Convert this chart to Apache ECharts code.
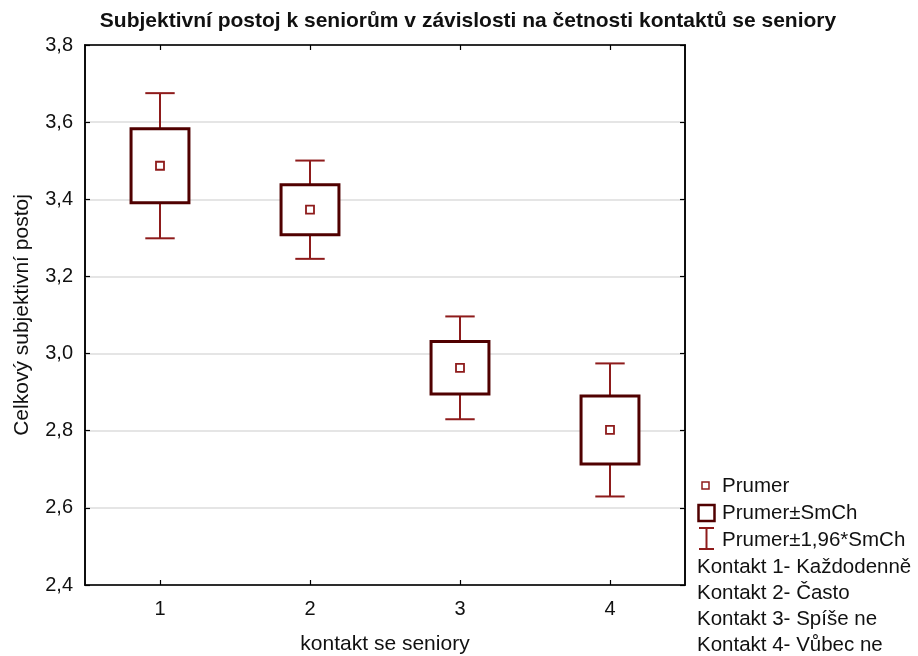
<!DOCTYPE html>
<html>
<head>
<meta charset="utf-8">
<script src="https://cdn.jsdelivr.net/npm/echarts@6/dist/echarts.min.js"></script>
<style>
  html, body { margin: 0; padding: 0; background: #fff; }
  #chart { width: 918px; height: 656px; }
</style>
</head>
<body>
<div id="chart"></div>
<script>
// Contact-frequency groups on the x axis
const categories = ['1', '2', '3', '4'];
// Group means of the overall subjective attitude
const means = [3.487, 3.373, 2.963, 2.802];
// Standard errors of the means (SmCh)
const stdErrors = [0.096, 0.065, 0.068, 0.088];

const chartTitle = 'Subjektivní postoj k seniorům v závislosti na četnosti kontaktů se seniory';
const yAxisName = 'Celkový subjektivní postoj';
const xAxisName = 'kontakt se seniory';
const legendLabels = ['Prumer', 'Prumer±SmCh', 'Prumer±1,96*SmCh'];
const contactLabels = [
  'Kontakt 1- Každodenně',
  'Kontakt 2- Často',
  'Kontakt 3- Spíše ne',
  'Kontakt 4- Vůbec ne'
];

const FONT = "'Liberation Sans', Arial, sans-serif";
const TEXT_SIZE = 20;
const BOX_COLOR = '#500000';
const WHISKER_COLOR = '#8e1b1b';
const MEAN_COLOR = '#8e1b1b';

const seriesData = categories.map((c, i) => [i, means[i], stdErrors[i]]);

// Box = mean ± SE, whiskers = mean ± 1.96·SE, small square = mean
function renderItem(params, api) {
  const idx = api.value(0);
  const m = api.value(1);
  const se = api.value(2);
  const band = api.size([1, 0])[0];
  const cx = api.coord([idx, m])[0];
  const yMean = api.coord([idx, m])[1];
  const yBoxTop = api.coord([idx, m + se])[1];
  const yBoxBot = api.coord([idx, m - se])[1];
  const yWTop = api.coord([idx, m + 1.96 * se])[1];
  const yWBot = api.coord([idx, m - 1.96 * se])[1];
  const boxHalf = band * 0.193;
  const capHalf = band * 0.098;
  const wStyle = { stroke: WHISKER_COLOR, lineWidth: 2 };
  const ms = 8;
  return {
    type: 'group',
    children: [
      { type: 'line', shape: { x1: cx, y1: yWTop, x2: cx, y2: yBoxTop }, style: wStyle },
      { type: 'line', shape: { x1: cx, y1: yBoxBot, x2: cx, y2: yWBot }, style: wStyle },
      { type: 'line', shape: { x1: cx - capHalf, y1: yWTop, x2: cx + capHalf, y2: yWTop }, style: wStyle },
      { type: 'line', shape: { x1: cx - capHalf, y1: yWBot, x2: cx + capHalf, y2: yWBot }, style: wStyle },
      {
        type: 'rect',
        shape: { x: cx - boxHalf, y: yBoxTop, width: boxHalf * 2, height: yBoxBot - yBoxTop },
        style: { fill: '#fff', stroke: BOX_COLOR, lineWidth: 3 }
      },
      {
        type: 'rect',
        shape: { x: cx - ms / 2, y: yMean - ms / 2, width: ms, height: ms },
        style: { fill: '#fff', stroke: MEAN_COLOR, lineWidth: 1.8 }
      }
    ]
  };
}

const legendGraphics = [
  // mean marker icon
  { type: 'rect', shape: { x: 702, y: 482, width: 7, height: 7 },
    style: { fill: '#fff', stroke: MEAN_COLOR, lineWidth: 1.5 } },
  // box icon
  { type: 'rect', shape: { x: 698.5, y: 505, width: 16, height: 16 },
    style: { fill: '#fff', stroke: BOX_COLOR, lineWidth: 2.5 } },
  // whisker icon
  { type: 'line', shape: { x1: 699, y1: 528, x2: 714, y2: 528 }, style: { stroke: WHISKER_COLOR, lineWidth: 2 } },
  { type: 'line', shape: { x1: 706.5, y1: 528, x2: 706.5, y2: 549 }, style: { stroke: WHISKER_COLOR, lineWidth: 2 } },
  { type: 'line', shape: { x1: 699, y1: 549, x2: 714, y2: 549 }, style: { stroke: WHISKER_COLOR, lineWidth: 2 } }
];
const legendTextY = [486, 513, 540];
legendLabels.forEach((t, i) => {
  legendGraphics.push({
    type: 'text', x: 722, y: legendTextY[i],
    style: { text: t, font: '20.5px ' + FONT, fill: '#111', verticalAlign: 'middle' }
  });
});
const contactY = [567, 593, 619, 645];
contactLabels.forEach((t, i) => {
  legendGraphics.push({
    type: 'text', x: 697, y: contactY[i],
    style: { text: t, font: '20.5px ' + FONT, fill: '#111', verticalAlign: 'middle' }
  });
});

const axisLabelStyle = { fontFamily: FONT, fontSize: TEXT_SIZE, color: '#111' };

const option = {
  animation: false,
  backgroundColor: '#fff',
  title: {
    text: chartTitle,
    left: 463, top: 6, textAlign: 'center',
    textStyle: { fontFamily: FONT, fontSize: 21, fontWeight: 'bold', color: '#111' }
  },
  grid: {
    left: 85, top: 45, width: 600, height: 540,
    outerBoundsMode: 'none',
    show: true, borderColor: '#000', borderWidth: 1.5, backgroundColor: 'transparent'
  },
  xAxis: [
    {
      type: 'category', data: categories, boundaryGap: true, position: 'bottom',
      axisLine: { show: true, lineStyle: { color: '#000', width: 1.5 } },
      axisTick: { show: true, inside: true, alignWithLabel: true, length: 5, lineStyle: { color: '#000', width: 1.2 } },
      axisLabel: Object.assign({ margin: 14 }, axisLabelStyle),
      splitLine: { show: false },
      name: xAxisName, nameLocation: 'middle', nameGap: 49,
      nameTextStyle: { fontFamily: FONT, fontSize: 21, color: '#111' }
    },
    {
      type: 'category', data: categories, boundaryGap: true, position: 'top',
      axisLine: { show: true, lineStyle: { color: '#000', width: 1.5 } },
      axisTick: { show: true, inside: true, alignWithLabel: true, length: 5, lineStyle: { color: '#000', width: 1.2 } },
      axisLabel: { show: false },
      splitLine: { show: false }
    }
  ],
  yAxis: [
    {
      type: 'value', min: 2.4, max: 3.8, interval: 0.2, position: 'left',
      axisLine: { show: true, lineStyle: { color: '#000', width: 1.5 } },
      axisTick: { show: true, inside: true, length: 5, lineStyle: { color: '#000', width: 1.2 } },
      axisLabel: Object.assign({ margin: 12, formatter: v => v.toFixed(1).replace('.', ',') }, axisLabelStyle),
      splitLine: { show: true, lineStyle: { color: '#dcdcdc', width: 1.5 } },
      name: yAxisName, nameLocation: 'middle', nameGap: 52, nameRotate: 90,
      nameTextStyle: { fontFamily: FONT, fontSize: 21, color: '#111' }
    },
    {
      type: 'value', min: 2.4, max: 3.8, interval: 0.2, position: 'right',
      axisLine: { show: true, lineStyle: { color: '#000', width: 1.5 } },
      axisTick: { show: true, inside: true, length: 5, lineStyle: { color: '#000', width: 1.2 } },
      axisLabel: { show: false },
      splitLine: { show: false }
    }
  ],
  series: [
    {
      type: 'custom',
      renderItem: renderItem,
      data: seriesData,
      encode: { x: 0, y: 1 },
      clip: false,
      z: 5
    }
  ],
  graphic: legendGraphics
};

const chart = echarts.init(document.getElementById('chart'), null, { renderer: 'canvas' });
chart.setOption(option);
</script>
</body>
</html>
